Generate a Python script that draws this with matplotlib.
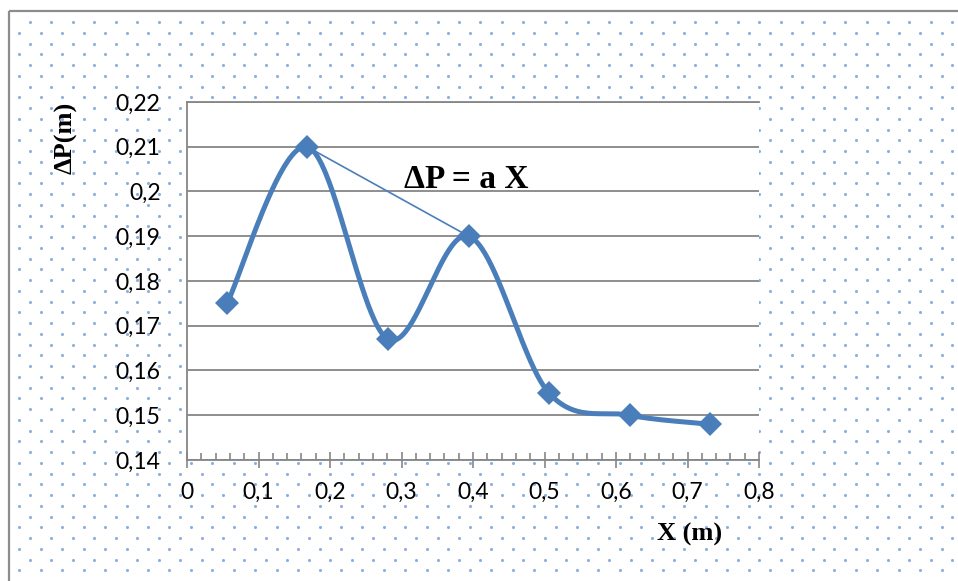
import numpy as np
import matplotlib
matplotlib.use("Agg")
import matplotlib.pyplot as plt
from matplotlib.patches import Rectangle
from matplotlib.ticker import FixedLocator, MultipleLocator, FuncFormatter

# ---- data ----
x_vals = [0.056, 0.168, 0.281, 0.394, 0.506, 0.619, 0.731]
dp_vals = [0.175, 0.210, 0.167, 0.190, 0.155, 0.150, 0.148]
trend_x = [0.168, 0.394]
trend_y = [0.210, 0.190]
x_ticks = [0.0, 0.1, 0.2, 0.3, 0.4, 0.5, 0.6, 0.7, 0.8]
y_ticks = [0.14, 0.15, 0.16, 0.17, 0.18, 0.19, 0.20, 0.21, 0.22]
annot_text = "ΔP = a X"
x_label = "X (m)"
y_label = "ΔP(m)"

W, H = 958, 581
BLUE = "#4A7EBB"
GRAY = "#868686"

fig = plt.figure(figsize=(W / 100, H / 100), dpi=100)
fig.patch.set_facecolor("white")

# ---- dotted chart-area background ----
bg = fig.add_axes([0, 0, 1, 1], zorder=0)
bg.set_xlim(0, W)
bg.set_ylim(H, 0)
bg.axis("off")
dx, dy = 21.45, 10.75
dots_x, dots_y = [], []
r = 0
yy = 22.0
while yy < H:
    xx = 30.0 if r % 2 == 0 else 19.3
    while xx < W:
        dots_x.append(xx)
        dots_y.append(yy)
        xx += dx
    yy += dy
    r += 1
bg.scatter(dots_x, dots_y, s=5, color="#6E9BD8", alpha=0.8, linewidths=0)
bg.add_patch(Rectangle((9, 11), W, H, fill=False, edgecolor="#8C8C8C", lw=1.6))

# ---- main axes ----
L, R, T, B = 187, 759, 102, 460
ax = fig.add_axes([L / W, 1 - B / H, (R - L) / W, (B - T) / H], zorder=1)
ax.set_facecolor("white")
ax.set_xlim(x_ticks[0], x_ticks[-1])
ax.set_ylim(y_ticks[0], y_ticks[-1])


def smooth(xs, ys, sx, sy, n=50):
    p = np.column_stack([np.asarray(xs) * sx, np.asarray(ys) * sy])
    p = np.vstack([p[0], p, p[-1]])
    out = []
    for i in range(1, len(p) - 2):
        p0, p1, p2, p3 = p[i - 1], p[i], p[i + 1], p[i + 2]
        b1 = p1 + (p2 - p0) / 6.0
        b2 = p2 - (p3 - p1) / 6.0
        t = np.linspace(0, 1, n)[:, None]
        seg = ((1 - t) ** 3) * p1 + 3 * ((1 - t) ** 2) * t * b1 + 3 * (1 - t) * t ** 2 * b2 + t ** 3 * p2
        out.append(seg if i == 1 else seg[1:])
    c = np.vstack(out)
    return c[:, 0] / sx, c[:, 1] / sy


sx = (R - L) / (x_ticks[-1] - x_ticks[0])
sy = (B - T) / (y_ticks[-1] - y_ticks[0])
cx, cy = smooth(x_vals, dp_vals, sx, sy)
ax.plot(cx, cy, color=BLUE, lw=3.6, solid_capstyle="round", zorder=3)
ax.plot(x_vals, dp_vals, linestyle="none", marker="D", markersize=12,
        color=BLUE, markeredgewidth=0, zorder=4)
ax.plot(trend_x, trend_y, color=BLUE, lw=1.2, zorder=3)

# grid / spines
ax.yaxis.set_major_locator(FixedLocator(y_ticks))
ax.xaxis.set_major_locator(FixedLocator(x_ticks))
ax.xaxis.set_minor_locator(MultipleLocator(0.02))
ax.yaxis.grid(True, color=GRAY, lw=1.3)
ax.xaxis.grid(False)
ax.set_axisbelow(True)
ax.spines["right"].set_visible(False)
for s in ["left", "bottom", "top"]:
    ax.spines[s].set_color(GRAY)
    ax.spines[s].set_linewidth(1.3)

fmt = FuncFormatter(lambda v, p: ("%g" % round(v, 3)).replace(".", ","))
ax.xaxis.set_major_formatter(fmt)
ax.yaxis.set_major_formatter(fmt)
tick_font = "Lato"
ax.tick_params(axis="y", length=0, pad=19, labelsize=16.5, labelcolor="black")
ax.tick_params(axis="x", which="major", direction="inout", length=11, width=1.2,
               color=GRAY, pad=10, labelsize=16.5, labelcolor="black")
ax.tick_params(axis="x", which="minor", direction="in", length=5, width=1.2, color=GRAY)
for lab in ax.get_xticklabels() + ax.get_yticklabels():
    lab.set_fontfamily(tick_font)

# annotation & labels
ax.text(0.391, 0.2008, annot_text, ha="center", va="baseline",
        fontfamily="Liberation Serif", fontweight="bold", fontsize=24, zorder=5)
fig.text(66 / W, 1 - 138 / H, y_label, rotation=90, ha="center", va="center",
         fontfamily="Liberation Serif", fontweight="bold", fontsize=19)
fig.text(690 / W, 1 - 534 / H, x_label, ha="center", va="center",
         fontfamily="Liberation Serif", fontweight="bold", fontsize=19)

fig.savefig("out.png", dpi=100)
